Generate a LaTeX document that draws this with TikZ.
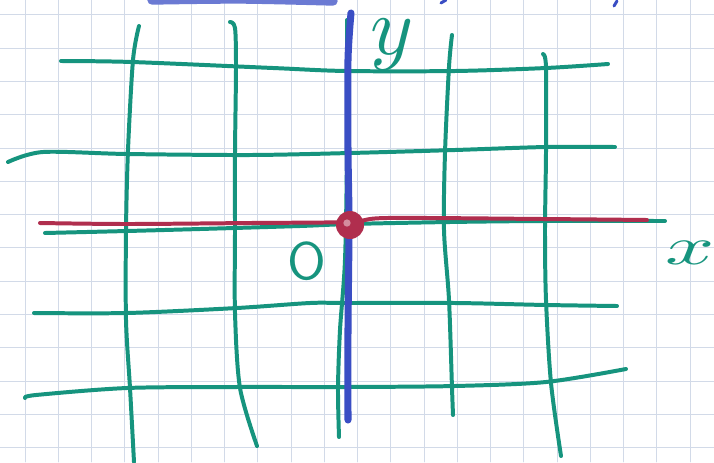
\documentclass[tikz,border=0pt]{standalone}
\definecolor{penteal}{RGB}{22,148,126}
\definecolor{penblue}{RGB}{58,78,196}
\definecolor{penred}{RGB}{176,46,78}
\definecolor{papergrid}{RGB}{210,218,232}
\begin{document}
\begin{tikzpicture}[x=0.03cm, y=-0.03cm, line cap=round, line join=round,
    tealpen/.style={draw=penteal, line width=3.4pt},
    bluepen/.style={draw=penblue, line width=6pt},
    redpen/.style={draw=penred, line width=3.4pt},
    gridline/.style={draw=papergrid, line width=0.8pt},
    every node/.style={text=penteal, inner sep=0pt}]
    \useasboundingbox (0,0) rectangle (714,462);
    \clip (0,0) rectangle (714,462);
    \fill[white] (0,0) rectangle (714,462);

    % graph paper
    \foreach \i in {0,...,20}
      \draw[gridline] ({25+33.25*\i},0) -- ({25+33.25*\i},462);
    \foreach \j in {0,...,13}
      \draw[gridline] (0,{14.8+33.3*\j}) -- (714,{14.8+33.3*\j});

    % what is left of the line above
    \draw[penblue!75, line width=8pt] plot[smooth] coordinates {(152,0) (240,-1) (333,1)};
    \draw[penblue, line width=2.5pt] (441,3) -- (446,0);
    \draw[penblue, line width=2.5pt] (614,6) -- (617,1);

    % horizontal lines
    \draw[tealpen] plot[smooth] coordinates {(61,61) (132,62) (273,68) (346,71) (455,71) (546,68) (608,64)};
    \draw[tealpen] plot[smooth] coordinates {(8,162) (43,152) (127,154) (250,155) (350,153) (455,150) (546,147) (615,147)};
    \draw[tealpen] plot[smooth] coordinates {(45,233) (127,231) (200,229) (300,226) (350,224) (450,222) (543,221) (665,221)};
    \draw[tealpen] plot[smooth] coordinates {(34,313) (127,313) (237,308) (310,303) (346,303) (455,303) (546,305) (617,306)};
    \draw[tealpen] plot[smooth] coordinates {(25,398) (36,395) (127,388) (237,387) (346,387) (455,386) (546,382) (626,369)};

    % vertical lines
    \draw[tealpen] plot[smooth] coordinates {(139,26) (133,60) (128,150) (126,230) (126,320) (130,388) (134,462)};
    \draw[tealpen] plot[smooth] coordinates {(230,22) (235,28) (236,67) (235,153) (235,230) (235,313) (240,388) (257,446)};
    \draw[tealpen] plot[smooth] coordinates {(347,20) (347,150) (345,260) (340,330) (338,388) (339,437)};
    \draw[tealpen] plot[smooth] coordinates {(452,35) (449,67) (445,153) (444,230) (449,300) (452,388) (453,415)};
    \draw[tealpen] plot[smooth] coordinates {(543,54) (546,67) (546,153) (545,230) (546,300) (551,383) (561,456)};

    % axes
    \draw[redpen] plot[smooth] coordinates {(40,223) (127,224) (250,223) (350,222) (387,218) (543,219) (647,220)};
    \draw[bluepen] plot[smooth] coordinates {(351,13) (348,60) (348,150) (349,225) (348,330) (348,420)};
    \coordinate (origin) at (350,225);
    \fill[penred] (origin) circle[radius=0.42cm];
    \fill[penred!55!white] ([xshift=-0.09cm,yshift=0.06cm]origin) circle[radius=0.11cm];

    % labels
    \node[scale=7] (ylabel) at (392,45) {$y$};
    \node[scale=4.5, font=\sffamily] (olabel) at (307,261) {O};
    \node[anchor=west, scale=4.6, xscale=1.6] (xlabel) at (664,253) {$x$};
\end{tikzpicture}
\end{document}
